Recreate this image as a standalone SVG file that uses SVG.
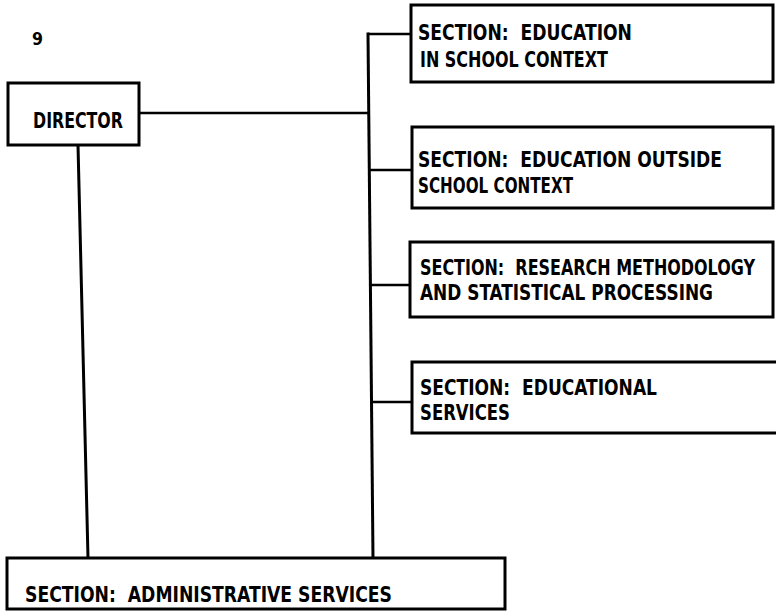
<svg xmlns="http://www.w3.org/2000/svg" width="776" height="612" viewBox="0 0 776 612" xml:space="preserve">
  <style>
    .box { fill: #ffffff; stroke: #000000; stroke-width: 3; }
    .link { fill: none; stroke: #000000; stroke-width: 3; stroke-linecap: square; }
    .branch { fill: none; stroke: #000000; stroke-width: 2.5; }
    text { font-family: "DejaVu Sans Condensed", "DejaVu Sans", "Liberation Sans", sans-serif; font-weight: bold; font-size: 21px; fill: #000000; white-space: pre; }
    .num { font-size: 17px; }
  </style>

  <rect x="0" y="0" width="776" height="612" fill="#ffffff"/>

  <!-- page number -->
  <text class="num" x="32" y="45" textLength="11" lengthAdjust="spacingAndGlyphs">9</text>

  <!-- connectors -->
  <g id="connectors">
    <line class="branch" x1="139" y1="113" x2="368" y2="113"/>
    <line class="link" x1="368" y1="34" x2="373" y2="558"/>
    <line class="branch" x1="368" y1="34" x2="411" y2="34"/>
    <line class="branch" x1="369" y1="170" x2="412" y2="170"/>
    <line class="branch" x1="370" y1="285" x2="410" y2="285"/>
    <line class="branch" x1="371" y1="402" x2="412" y2="402"/>
    <line class="link" x1="78" y1="145" x2="88" y2="558"/>
  </g>

  <!-- director -->
  <g id="director">
    <rect class="box" x="8" y="83" width="131" height="62"/>
    <text x="33" y="128" textLength="90" lengthAdjust="spacingAndGlyphs">DIRECTOR</text>
  </g>

  <!-- sections -->
  <g id="section-school">
    <rect class="box" x="411" y="5" width="362" height="77"/>
    <text x="418" y="40" textLength="214" lengthAdjust="spacingAndGlyphs">SECTION:  EDUCATION</text>
    <text x="420" y="67" textLength="188" lengthAdjust="spacingAndGlyphs">IN SCHOOL CONTEXT</text>
  </g>

  <g id="section-outside">
    <rect class="box" x="412" y="127" width="361" height="81"/>
    <text x="418" y="167" textLength="304" lengthAdjust="spacingAndGlyphs">SECTION:  EDUCATION OUTSIDE</text>
    <text x="418" y="193" textLength="155" lengthAdjust="spacingAndGlyphs">SCHOOL CONTEXT</text>
  </g>

  <g id="section-research">
    <rect class="box" x="410" y="242" width="363" height="75"/>
    <text x="420" y="275" textLength="335" lengthAdjust="spacingAndGlyphs">SECTION:  RESEARCH METHODOLOGY</text>
    <text x="420" y="300" textLength="293" lengthAdjust="spacingAndGlyphs">AND STATISTICAL PROCESSING</text>
  </g>

  <g id="section-services">
    <rect class="box" x="412" y="362" width="368" height="71"/>
    <text x="420" y="395" textLength="237" lengthAdjust="spacingAndGlyphs">SECTION:  EDUCATIONAL</text>
    <text x="420" y="420" textLength="90" lengthAdjust="spacingAndGlyphs">SERVICES</text>
  </g>

  <g id="section-admin">
    <rect class="box" x="7" y="558" width="498" height="51"/>
    <text x="25" y="602" textLength="367" lengthAdjust="spacingAndGlyphs">SECTION:  ADMINISTRATIVE SERVICES</text>
  </g>
</svg>
